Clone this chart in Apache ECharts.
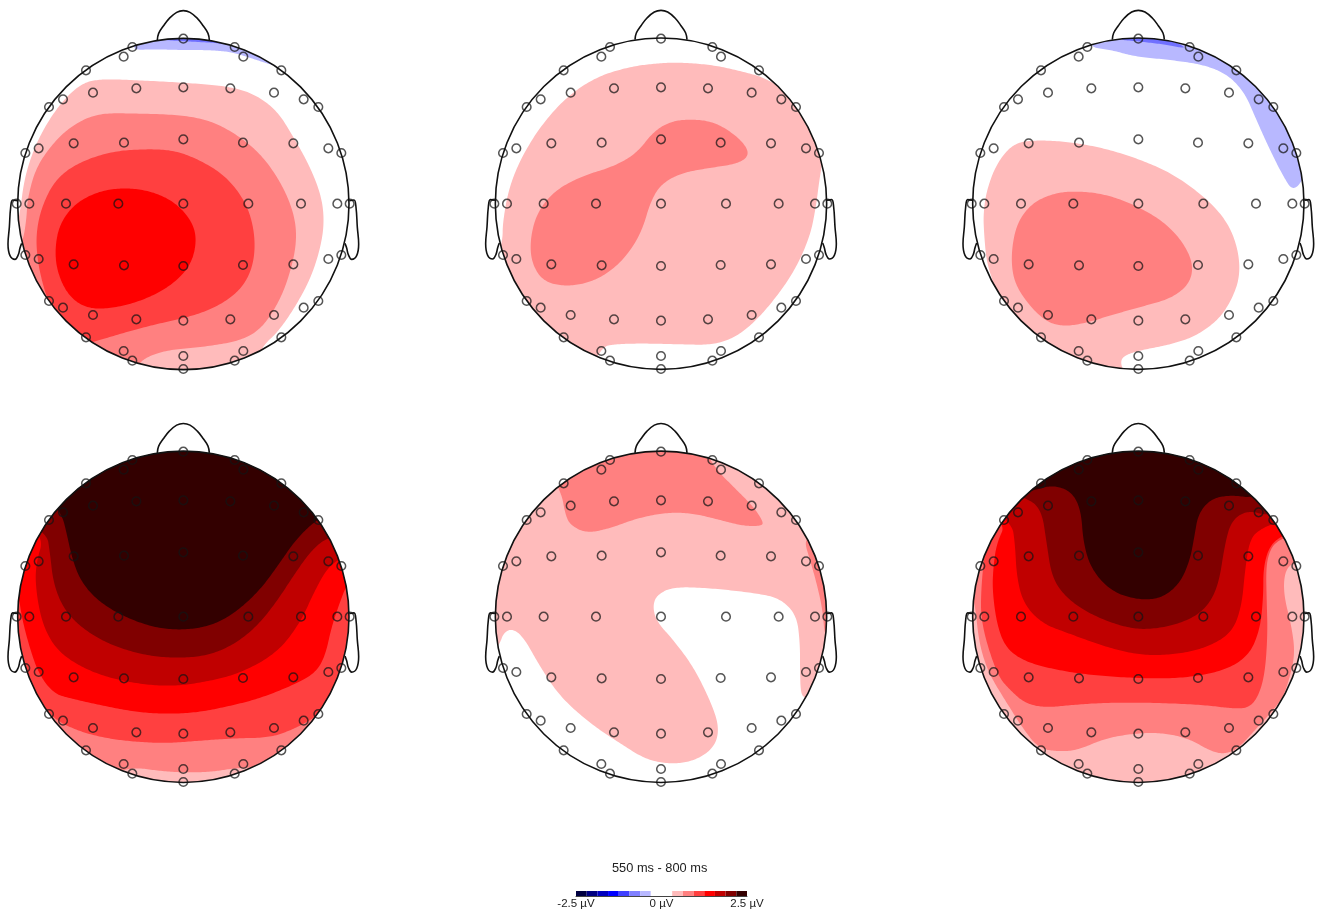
<!DOCTYPE html>
<html><head><meta charset="utf-8">
<style>html,body{margin:0;padding:0;background:#fff}#c{width:1325px;height:919px}</style>
<script src="https://cdn.jsdelivr.net/npm/echarts@6/dist/echarts.min.js"></script>
</head><body><div id="c"></div>
<script>
// Voltage levels (µV band of each filled contour)
const colorbarEdges = [-2.5,-2.1875,-1.875,-1.5625,-1.25,-0.9375,-0.625,-0.3125,0.3125,0.625,0.9375,1.25,1.5625,1.875,2.1875,2.5];
const colorbarColors = ['#000040','#000080','#0000c0','#0000ff','#4040ff','#8080ff','#b8b8ff','#ffffff','#ffbbbb','#ff8080','#ff4040','#ff0000','#c00000','#800000','#330000'];
const colorbarTicks = [-2.5,0,2.5];

// Electrode montage relative to head centre
const electrodes = [[0,-495],[-153,-470],[154,-470],[-179,-441],[180,-441],[-292,-400],[294,-400],
[-271,-333],[-141,-346],[0,-349],[141,-346],[272,-333],[-361,-313],[361,-313],[-403,-290],[405,-290],
[-474,-152],[-434,-166],[-329,-181],[-178,-183],[0,-193],[179,-183],[330,-181],[435,-166],[474,-152],
[-500,0],[-462,0],[-352,0],[-195,0],[0,0],[195,0],[353,0],[462,0],[499,0],
[-474,154],[-434,166],[-329,182],[-178,185],[0,187],[179,184],[330,182],[435,166],[474,154],
[-403,292],[-361,312],[-271,334],[-141,347],[0,351],[141,347],[272,334],[361,312],[405,292],
[-292,401],[294,401],[-179,442],[180,442],[-153,471],[154,471],[0,457],[0,496]];
const noseLine = [[-78,-492],[-74,-512],[-60,-534],[-42,-557],[-20,-575],[0,-580],[20,-575],[42,-557],[60,-534],[74,-512],[78,-492]];
const leftEar = [[-498,-10],[-512,-12],[-518,10],[-522,70],[-526,120],[-520,155],[-505,166],[-495,152],[-490,132],[-485,118]];
const rightEar = [[498,-10],[512,-12],[518,10],[522,70],[526,120],[520,155],[505,166],[495,152],[490,132],[485,118]];

// Panel 1 contours
const p1Blue1 = [[385,150],[450,100],[550,90],[650,100],[760,130],[850,205],[800,190],[740,170],[690,155],[620,150],[540,150],[470,148]];
const p1Blue2 = [[470,118],[550,110],[640,118],[695,135],[640,128],[550,124]];
const p1L1 = [[300,237],[400,240],[550,248],[680,258],[760,280],[830,330],[880,410],[930,500],[965,590],[973,670],[960,750],[930,840],[880,930],[830,1000],[790,1035],[740,1130],[500,1160],[250,1100],[80,900],[40,720],[60,640],[72,540],[100,450],[140,370],[190,300],[245,250]];
const p1L2 = [[290,340],[400,340],[550,345],[640,365],[720,410],[790,470],[850,560],[885,650],[890,730],[870,820],[840,900],[790,980],[730,1020],[620,1040],[500,1050],[430,1075],[405,1110],[250,1060],[100,910],[45,770],[70,720],[80,650],[82,600],[105,510],[150,440],[210,380]];
const p1L3 = [[430,447],[520,450],[600,480],[680,530],[740,610],[765,700],[762,790],[730,860],[670,910],[590,945],[480,970],[400,990],[300,1020],[230,1040],[120,930],[146,905],[130,860],[112,780],[108,700],[125,620],[165,540],[230,490],[330,455]];
const p1L4 = [[380,563],[460,575],[530,610],[580,670],[590,730],[570,800],[510,860],[420,905],[320,928],[250,922],[200,880],[170,810],[165,740],[180,670],[225,610],[300,572]];
// Panel 2 contours
const p2L1 = [[600,187],[700,195],[790,215],[860,235],[960,300],[1040,420],[1030,470],[1018,540],[1008,620],[990,710],[945,810],[890,890],[830,960],[770,1010],[700,1035],[600,1033],[480,1030],[400,1033],[370,1040],[340,1090],[150,970],[50,780],[68,720],[68,670],[85,570],[120,480],[180,380],[260,290],[350,230],[450,200],[530,190]];
const p2L2 = [[630,357],[700,365],[760,400],[800,440],[805,470],[770,492],[680,505],[600,520],[540,555],[510,610],[490,680],[460,740],[410,800],[340,845],[260,860],[190,845],[155,790],[150,720],[170,640],[220,575],[300,530],[400,500],[470,460],[520,395],[570,365]];
// Panel 3 contours
const p3Blue1 = [[395,140],[460,95],[600,90],[710,105],[820,150],[920,240],[1000,340],[1060,470],[1050,530],[1015,575],[985,530],[940,440],[900,350],[870,280],[820,225],[750,195],[650,180],[540,170],[470,150]];
const p3Blue2 = [[480,118],[560,112],[650,120],[700,147],[640,135],[560,125]];
const p3L1 = [[240,420],[340,425],[450,445],[560,480],[660,525],[760,600],[820,670],[850,750],[855,830],[830,900],[790,960],[720,1010],[640,1035],[560,1050],[510,1065],[495,1085],[510,1125],[400,1140],[250,1070],[90,910],[120,860],[95,790],[87,700],[85,640],[95,570],[125,490],[175,430]];
const p3L2 = [[350,573],[440,580],[530,610],[620,660],[680,720],[715,790],[705,850],[650,895],[560,920],[470,945],[390,970],[320,980],[265,960],[210,900],[175,840],[168,760],[185,670],[230,610],[290,582]];
// Panel 4 contours
const p4L1 = [[0,0],[1110,0],[1110,1155],[0,1155]];
const p4L2 = [[0,0],[1110,0],[1110,1000],[770,1072],[700,1075],[640,1085],[560,1088],[480,1083],[400,1072],[340,1090],[0,1000]];
const p4L3 = [[0,0],[1110,0],[1110,850],[975,900],[940,925],[880,958],[810,983],[700,985],[600,992],[500,1000],[400,995],[320,985],[240,965],[165,930],[125,880],[85,830],[40,770],[0,580]];
const p4L4 = [[0,0],[1110,0],[1110,500],[1045,510],[1015,590],[995,650],[975,740],[945,790],[880,825],[780,865],[690,888],[590,908],[490,912],[400,905],[300,885],[210,865],[160,850],[115,790],[85,700],[65,620],[55,550],[0,500]];
const p4L5 = [[0,0],[1110,0],[1110,420],[1030,440],[985,470],[945,540],[900,640],[830,730],[720,790],[620,815],[530,828],[440,825],[330,805],[240,770],[170,720],[130,650],[110,560],[105,470],[135,370],[0,300]];
const p4L6 = [[0,0],[1110,0],[1110,350],[985,380],[935,420],[885,490],[830,575],[770,650],[700,705],[620,738],[520,745],[420,733],[320,700],[240,650],[190,595],[160,520],[150,430],[140,365],[0,300]];
const p4L7 = [[0,0],[1110,0],[1110,250],[960,320],[890,385],[835,465],[780,540],[710,605],[640,645],[560,660],[470,655],[370,620],[290,570],[240,510],[215,440],[200,370],[185,310],[100,200]];
// Panel 5 contours
const p5L1 = [[0,0],[1110,0],[1110,750],[1020,880],[975,865],[962,850],[960,780],[960,700],[950,615],[900,565],[830,550],[700,535],[580,530],[530,555],[518,590],[530,635],[580,690],[640,770],[690,870],[718,950],[705,1010],[650,1050],[580,1063],[500,1050],[420,1000],[330,940],[240,860],[180,770],[130,680],[95,655],[70,670],[60,700],[30,740],[0,620]];
const p5L2a = [[245,250],[255,310],[270,345],[320,370],[390,355],[470,325],[560,307],[640,310],[720,330],[790,348],[845,348],[850,335],[820,290],[770,240],[710,180],[680,130],[600,60],[400,60],[200,170]];
const p5L2b = [[972,390],[990,450],[1010,520],[1028,600],[1035,690],[1065,650],[1065,450],[1000,380]];
// Panel 6 contours
const p6L1 = [[0,0],[1110,0],[1110,1155],[0,1155]];
const p6L2 = [[0,0],[1110,0],[1110,420],[1020,455],[990,480],[985,550],[1010,650],[1020,730],[1005,800],[985,860],[955,900],[900,960],[850,1015],[810,1032],[770,1025],[700,985],[620,968],[540,970],[450,985],[370,1020],[310,1025],[250,1015],[200,950],[150,870],[110,805],[85,745],[70,680],[62,600],[50,545],[0,400]];
const p6L3 = [[0,0],[1110,0],[1110,350],[1000,378],[965,395],[945,420],[933,470],[935,570],[938,670],[930,790],[910,860],[880,895],[825,895],[750,885],[600,878],[450,878],[350,885],[270,893],[210,880],[165,840],[130,800],[95,700],[78,620],[78,550],[85,460],[95,405],[0,300]];
const p6L4 = [[0,0],[1110,0],[1110,320],[985,375],[945,405],[925,470],[925,560],[915,660],[880,740],[800,785],[680,805],[550,805],[400,795],[280,775],[200,750],[150,710],[125,640],[112,540],[115,470],[125,400],[155,335],[0,250]];
const p6L5 = [[0,0],[1110,0],[1110,280],[965,338],[920,355],[885,385],[870,480],[860,590],[830,670],[750,715],[650,735],[550,735],[450,710],[340,670],[260,640],[205,580],[185,500],[180,400],[170,335],[0,200]];
const p6L6 = [[0,0],[1110,0],[1110,260],[945,320],[880,300],[830,330],[810,400],[790,530],[750,600],[680,640],[580,660],[500,650],[400,610],[330,560],[290,500],[275,400],[260,300],[215,262],[0,200]];
const p6L7 = [[0,0],[1110,0],[1110,200],[900,265],[830,255],[770,265],[730,310],[718,380],[705,450],[675,520],[620,565],[550,570],[470,545],[410,480],[385,400],[378,300],[350,245],[295,225],[240,240],[0,300]];

const bandRed = ['#ffbbbb','#ff8080','#ff4040','#ff0000','#c00000','#800000','#330000'];
const bandBlue = ['#b8b8ff','#7070ff'];
const panels = [
 {o:[0,0],c:[550,612],e:[550,611],layers:[[p1Blue1,bandBlue[0]],[p1Blue2,bandBlue[1]],[p1L1,bandRed[0]],[p1L2,bandRed[1]],[p1L3,bandRed[2]],[p1L4,bandRed[3]]]},
 {o:[480,0],c:[543,611],e:[543,611],layers:[[p2L1,bandRed[0]],[p2L2,bandRed[1]]]},
 {o:[955,0],c:[550,611],e:[550,611],layers:[[p3Blue1,bandBlue[0]],[p3Blue2,bandBlue[1]],[p3L1,bandRed[0]],[p3L2,bandRed[1]]]},
 {o:[0,410],c:[550,620.5],e:[550,620],layers:[[p4L1,bandRed[0]],[p4L2,bandRed[1]],[p4L3,bandRed[2]],[p4L4,bandRed[3]],[p4L5,bandRed[4]],[p4L6,bandRed[5]],[p4L7,bandRed[6]]]},
 {o:[480,410],c:[543,620.5],e:[543,620],layers:[[p5L1,bandRed[0]],[p5L2a,bandRed[1]],[p5L2b,bandRed[1]]]},
 {o:[955,410],c:[550,620.5],e:[550,620],layers:[[p6L1,bandRed[0]],[p6L2,bandRed[1]],[p6L3,bandRed[2]],[p6L4,bandRed[3]],[p6L5,bandRed[4]],[p6L6,bandRed[5]],[p6L7,bandRed[6]]]}
];
const HEAD_R = 497;

// Corner-cutting so the read contour vertices render as a smooth outline
function rounded(pts){
  let cur=pts;
  for(let it=0;it<4;it++){
    const out=[];
    for(let i=0;i<cur.length;i++){
      const a=cur[i],b=cur[(i+1)%cur.length];
      out.push([a[0]*0.75+b[0]*0.25,a[1]*0.75+b[1]*0.25],[a[0]*0.25+b[0]*0.75,a[1]*0.25+b[1]*0.75]);
    }
    cur=out;
  }
  return cur;
}

const grids=[],xAxes=[],yAxes=[],series=[];
panels.forEach((p,i)=>{
  grids.push({left:p.o[0],top:p.o[1],width:370,height:385,containLabel:false});
  xAxes.push({type:'value',gridIndex:i,min:0,max:1110,show:false});
  yAxes.push({type:'value',gridIndex:i,min:0,max:1155,inverse:true,show:false});
  const clipOf=(api)=>{const c=api.coord(p.c);const r=api.size([HEAD_R,0])[0];return {type:'circle',shape:{cx:c[0],cy:c[1],r:r}};};
  p.layers.forEach(([pts,color],k)=>{
    const isFull=pts.length===4;
    series.push({type:'custom',xAxisIndex:i,yAxisIndex:i,clip:false,silent:true,z:1+k*0.01,data:pts,
      renderItem:(params,api)=>{
        if(params.dataIndex!==0) return null;
        return {type:'polygon',clipPath:clipOf(api),
          shape:{points:(isFull?pts:rounded(pts)).map(q=>api.coord(q))},
          style:{fill:color,stroke:null}};
      }});
  });
  series.push({type:'custom',xAxisIndex:i,yAxisIndex:i,clip:false,silent:true,z:3,data:[p.c],
    renderItem:(params,api)=>{
      const c=api.coord([api.value(0),api.value(1)]);
      return {type:'circle',shape:{cx:c[0],cy:c[1],r:api.size([HEAD_R,0])[0]},style:{fill:null,stroke:'#111',lineWidth:1.6}};
    }});
  [noseLine,leftEar,rightEar].forEach(l=>{
    series.push({type:'line',xAxisIndex:i,yAxisIndex:i,z:3,silent:true,showSymbol:false,smooth:0.4,clip:false,
      lineStyle:{color:'#111',width:1.6},data:l.map(q=>[q[0]+p.c[0],q[1]+p.c[1]])});
  });
  series.push({type:'scatter',xAxisIndex:i,yAxisIndex:i,z:4,silent:true,symbol:'circle',symbolSize:8.6,clip:false,
    itemStyle:{color:'rgba(0,0,0,0)',borderColor:'rgba(20,20,20,0.9)',borderWidth:1.5},
    data:electrodes.map(q=>[q[0]+p.e[0],q[1]+p.e[1]])});
});
// Colour bar
const cb=panels.length;
grids.push({left:576,top:891,width:171,height:5});
xAxes.push({type:'value',gridIndex:cb,min:-2.5,max:2.5,interval:2.5,
  axisLine:{show:true,lineStyle:{color:'#444',width:1},onZero:false},axisTick:{show:false},splitLine:{show:false},
  axisLabel:{margin:2,color:'#222',fontFamily:'Liberation Sans',fontSize:11.5,showMinLabel:true,showMaxLabel:true,
    formatter:v=>colorbarTicks.includes(v)?(v+' µV'):''}});
yAxes.push({type:'value',gridIndex:cb,min:0,max:1,show:false});
series.push({type:'custom',xAxisIndex:cb,yAxisIndex:cb,silent:true,z:2,
  data:colorbarColors.map((col,i)=>[colorbarEdges[i],colorbarEdges[i+1]]),
  renderItem:(params,api)=>{
    const a=api.coord([api.value(0),1]),b=api.coord([api.value(1),0]);
    return {type:'rect',shape:{x:a[0],y:a[1],width:b[0]-a[0],height:b[1]-a[1]},style:{fill:colorbarColors[params.dataIndex]}};
  }});

const chart=echarts.init(document.getElementById('c'),null,{renderer:'canvas',width:1325,height:919});
chart.setOption({animation:false,backgroundColor:'#fff',
  title:{text:'550 ms - 800 ms',left:607,top:857,textStyle:{fontFamily:'Liberation Sans',fontSize:12.8,fontWeight:'normal',color:'#222'}},
  grid:grids,xAxis:xAxes,yAxis:yAxes,series:series});
</script></body></html>
